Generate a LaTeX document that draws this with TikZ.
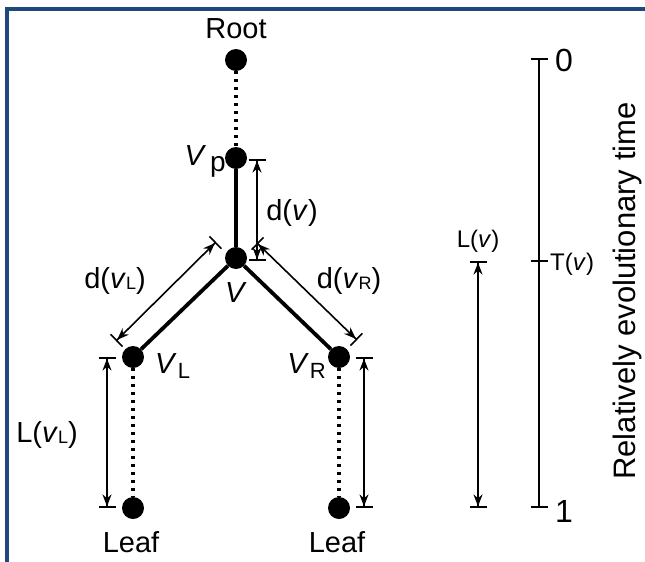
\documentclass[tikz,border=0pt]{standalone}
\usepackage{fontspec}
\setmainfont{Liberation Sans}
\usetikzlibrary{arrows.meta, positioning}
\definecolor{frameblue}{RGB}{31,73,125}

\newcommand{\vsub}[1]{\textit{v}\raisebox{-1pt}{\fontsize{18}{18}\selectfont #1}}
\newcommand{\Vsub}[1]{\textit{V}\kern1pt\raisebox{-5pt}{\fontsize{22}{22}\selectfont #1}}

\begin{document}
\begin{tikzpicture}[
    x=1pt, y=-1pt,
    dot/.style={circle, fill=black, inner sep=0pt, minimum size=22pt},
    branch/.style={line width=3.8pt},
    hidden/.style={line width=3.2pt, dash pattern=on 3.2pt off 4.8pt},
    dim/.style={line width=1.6pt, {Bar[width=17pt]Stealth[length=12pt,width=9pt]}-{Stealth[length=12pt,width=9pt]Bar[width=17pt]}},
    axis/.style={line width=1.6pt},
    lbl/.style={inner sep=0pt, font=\fontsize{29}{33}\selectfont},
    smalllbl/.style={inner sep=0pt, font=\fontsize{24}{28}\selectfont},
    numlbl/.style={inner sep=0pt, font=\fontsize{32}{36}\selectfont}
]

\useasboundingbox (0,0) rectangle (645,562);
\draw[frameblue, line width=4pt] (7,562) -- (7,9) -- (645,9);

\node[dot] (root) at (236,60) {};
\node[dot] (vp) at (236,158) {};
\node[dot] (v) at (236,258) {};
\node[dot] (vl) at (133,357) {};
\node[dot] (vr) at (339,357) {};
\node[dot] (leafl) at (133,508) {};
\node[dot] (leafr) at (339,508) {};

\draw[hidden] (root) -- (vp);
\draw[branch] (vp) -- (v);
\draw[branch] (v) -- (vl);
\draw[branch] (v) -- (vr);
\draw[hidden] (vl) -- (leafl);
\draw[hidden] (vr) -- (leafr);

\node[lbl, anchor=base] (rootlbl) at (236,38) {Root};
\node[lbl, anchor=base] (leafllbl) at (131,552) {Leaf};
\node[lbl, anchor=base] (leafrlbl) at (337,552) {Leaf};
\node[lbl, anchor=base east] (vplbl) at (226,165) {\textit{V}\kern4pt\raisebox{-6pt}{\fontsize{28}{28}\selectfont p}};
\node[lbl, anchor=base] (vlbl) at (236,302) {\textit{V}};
\node[lbl, anchor=base west] (vllbl) at (155,373) {\Vsub{L}};
\node[lbl, anchor=base east] (vrlbl) at (326,373) {\Vsub{R}};

\coordinate (dvtop) at (257,159);
\coordinate (dvbot) at (257,261);
\coordinate (dlbot) at (116,341);
\coordinate (dltop) at (216,242);
\coordinate (drtop) at (257,243);
\coordinate (drbot) at (357,340);
\coordinate (lltop) at (107,357);
\coordinate (llbot) at (107,508);
\coordinate (lrtop) at (364,357);
\coordinate (lrbot) at (364,508);
\coordinate (lvtop) at (478,261);
\coordinate (lvbot) at (478,508);

\draw[dim] (dvtop) -- (dvbot);
\draw[dim] (dlbot) -- (dltop);
\draw[dim] (drtop) -- (drbot);
\draw[dim] (lltop) -- (llbot);
\draw[dim] (lrtop) -- (lrbot);
\draw[dim] (lvtop) -- (lvbot);

\node[lbl, anchor=base] (dvlbl) at (292,220) {d(\textit{v})};
\node[lbl, anchor=base] (dllbl) at (115,288) {d(\vsub{L})};
\node[lbl, anchor=base] (drlbl) at (349,288) {d(\vsub{R})};
\node[lbl, anchor=base] (lllbl) at (47,442) {L(\vsub{L})};
\node[smalllbl, anchor=base] (lvlbl) at (478,247) {L(\textit{v})};

\coordinate (t0) at (539,59);
\coordinate (tv) at (539,261);
\coordinate (t1) at (539,507);
\draw[axis] (t0) -- (t1);
\draw[axis] ([xshift=-8.5pt]t0) -- ([xshift=8.5pt]t0);
\draw[axis] ([xshift=-8.5pt]tv) -- ([xshift=8.5pt]tv);
\draw[axis] ([xshift=-8.5pt]t1) -- ([xshift=8.5pt]t1);

\node[numlbl, anchor=base west] (zerolbl) at (555,71) {0};
\node[numlbl, anchor=base] (onelbl) at (564,522) {1};
\node[smalllbl, anchor=base west] (tvlbl) at (550,270) {T(\textit{v})};
\node[lbl, anchor=base, rotate=90, font=\fontsize{31}{35}\selectfont] (timelbl) at (635,291) {Relatively evolutionary time};

\end{tikzpicture}
\end{document}
